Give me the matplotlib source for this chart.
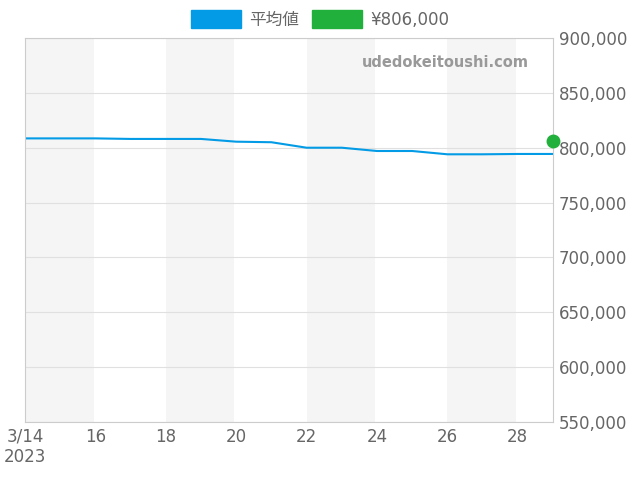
import matplotlib
matplotlib.use("Agg")
import matplotlib.pyplot as plt
import matplotlib.patches as mpatches

plt.rcParams['font.family'] = ['DejaVu Sans', 'Noto Sans CJK JP']

days = [14, 15, 16, 17, 18, 19, 20, 21, 22, 23, 24, 25, 26, 27, 28, 29]
avg = [808500, 808500, 808500, 808000, 808000, 808000, 805500, 805000, 800000, 800000, 797000, 797000, 794000, 794000, 794300, 794300]
point_day = 29
point_val = 806000
xticks = [14, 16, 18, 20, 22, 24, 26, 28]
xlabels = ['3/14\n2023', '16', '18', '20', '22', '24', '26', '28']
yticks = [550000, 600000, 650000, 700000, 750000, 800000, 850000, 900000]

fig = plt.figure(figsize=(6.4, 4.8), dpi=100)
ax = fig.add_axes([25/640, 58/480, 528/640, 384/480])
for s in [14, 18, 22, 26]:
    ax.axvspan(s, s + 1.95, color='#f5f5f5', lw=0)
ax.plot(days, avg, color='#039be5', lw=1.5)
ax.plot([point_day], [point_val], 'o', color='#22b03c', ms=9, clip_on=False, zorder=5)
ax.set_xlim(14, 29)
ax.set_ylim(550000, 900000)
ax.set_xticks(xticks)
ax.set_xticklabels(xlabels, color='#666666', fontsize=12)
ax.set_yticks(yticks)
ax.set_yticklabels([f"{v:,}" for v in yticks], color='#666666', fontsize=12)
ax.yaxis.tick_right()
ax.grid(axis='y', color='#e0e0e0', lw=0.8)
ax.tick_params(length=0, pad=4)
for sp in ax.spines.values():
    sp.set_color('#cccccc')
ax.text(0.955, 0.955, 'udedokeitoushi.com', transform=ax.transAxes, ha='right', va='top',
        color='#999999', fontsize=10.5, fontweight='bold')
handles = [mpatches.Patch(color='#039be5', label='平均値'), mpatches.Patch(color='#22b03c', label='¥806,000')]
fig.legend(handles=handles, loc='upper center', bbox_to_anchor=(0.5, 1.01), ncol=2, frameon=False,
           fontsize=12, handlelength=3, handleheight=1.3, handletextpad=0.5, labelcolor='#666666', columnspacing=0.8)
fig.savefig('out.png', dpi=100)
